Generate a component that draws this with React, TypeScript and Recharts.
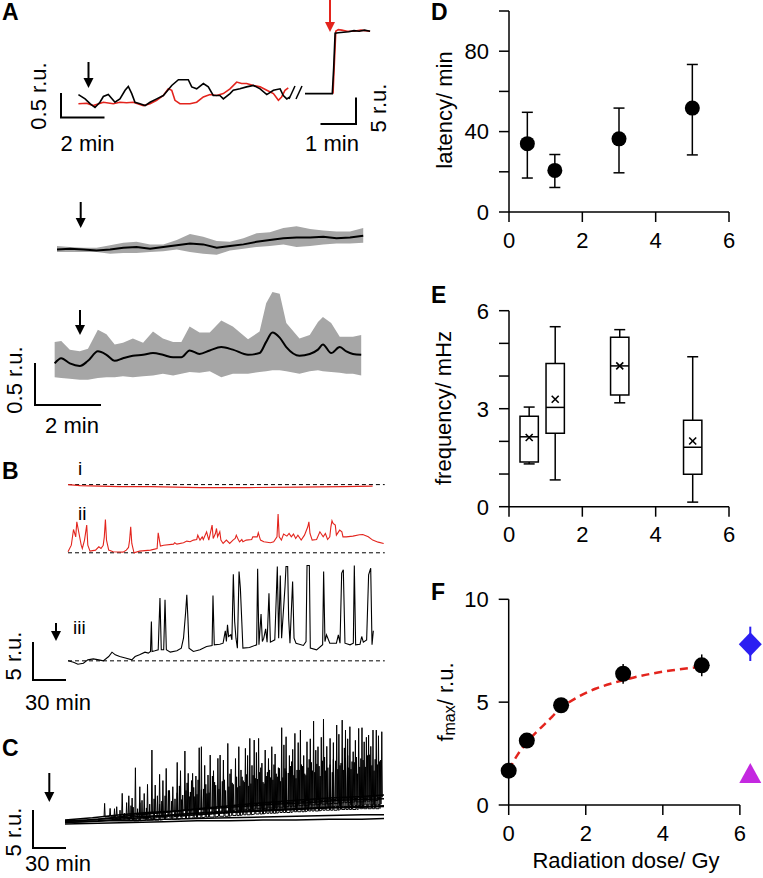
import {
  ComposedChart,
  Line,
  Area,
  Scatter,
  ErrorBar,
  XAxis,
  YAxis,
  ReferenceLine,
  ReferenceArea,
} from 'recharts'

const FONT = '"Liberation Sans", Arial, Helvetica, sans-serif'
const RED = '#e3241d'
const BAND = '#a6a6a6'
const BLUE = '#2b1ef2'
const MAGENTA = '#c428e0'

// ---- A, single cell before / after (time in min, dF in r.u.)
const aBlack: [number, number][] = [
  [0.02, 0.33], [0.33, 0.24], [0.56, 0.14], [0.79, 0.06], [1.02, 0.17], [1.18, 0.29], [1.41, 0.33],
  [1.72, 0.17], [1.95, 0.24], [2.19, 0.42], [2.34, 0.5], [2.5, 0.35], [2.65, 0.17], [2.88, 0.14],
  [3.12, 0.1], [3.35, 0.17], [3.66, 0.24], [3.97, 0.31], [4.36, 0.52], [4.67, 0.64], [5.13, 0.64],
  [5.29, 0.49], [5.52, 0.45], [5.83, 0.56], [6.06, 0.49], [6.29, 0.31], [6.6, 0.31], [6.76, 0.24],
  [7.07, 0.35], [7.22, 0.42], [7.53, 0.45], [7.84, 0.49], [8.16, 0.52], [8.47, 0.45], [8.78, 0.33],
  [9.09, 0.42], [9.4, 0.45], [9.55, 0.31], [9.71, 0.24], [9.86, 0.28],
]
const aRed: [number, number][] = [
  [0.02, 0.14], [0.4, 0.15], [0.71, 0.1], [1.18, 0.17], [1.64, 0.14], [1.95, 0.17], [2.26, 0.16],
  [2.57, 0.17], [3.04, 0.1], [3.35, 0.14], [3.66, 0.21], [3.97, 0.31], [4.2, 0.45], [4.36, 0.42],
  [4.51, 0.21], [4.74, 0.14], [5.21, 0.14], [5.52, 0.17], [5.83, 0.28], [6.14, 0.33], [6.45, 0.31],
  [6.76, 0.35], [7.07, 0.45], [7.38, 0.59], [7.61, 0.56], [7.84, 0.56], [8.16, 0.52], [8.47, 0.49],
  [8.78, 0.42], [9.09, 0.35], [9.32, 0.21], [9.47, 0.28], [9.63, 0.42], [9.78, 0.47],
]
const aStepBlack: [number, number][] = [
  [0, 0], [0.4, 0], [0.78, 0], [0.82, 5], [0.86, 11.6], [0.95, 11.7], [1.1, 11.8], [1.25, 11.9],
  [1.4, 12.1], [1.55, 12.0], [1.7, 12.2], [1.86, 12.0],
]
const aStepRed: [number, number][] = [
  [0.8, 0], [0.84, 6], [0.88, 12.0], [0.95, 12.3], [1.05, 12.2], [1.2, 12.0], [1.4, 12.0], [1.6, 12.2], [1.86, 12.0],
]

// ---- A, averaged responses (mean with SD band)
const a2Time = [0, 0.39, 0.8, 1.2, 1.61, 2.01, 2.41, 2.82, 3.22, 3.63, 4.03, 4.43, 4.84, 5.24, 5.65, 6.05, 6.45, 6.86, 7.26, 7.67, 8.07, 8.47, 8.88, 9.28]
const a2Mean = [0.01, 0.02, 0.01, 0, 0.01, 0.03, 0.04, 0.02, 0.04, 0.06, 0.08, 0.07, 0.03, 0.05, 0.07, 0.1, 0.12, 0.14, 0.15, 0.15, 0.16, 0.14, 0.15, 0.17]
const a2Hi = [0.05, 0.04, 0.03, 0.03, 0.06, 0.09, 0.1, 0.07, 0.07, 0.12, 0.19, 0.16, 0.11, 0.1, 0.14, 0.2, 0.21, 0.26, 0.28, 0.25, 0.23, 0.22, 0.22, 0.26]
const a2Lo = [-0.02, -0.02, -0.02, -0.02, -0.04, -0.03, -0.03, -0.02, -0.01, 0.01, -0.02, -0.04, -0.05, 0, 0.02, 0.04, 0.05, 0.07, 0.04, 0.05, 0.07, 0.08, 0.08, 0.09]

const a3Time = [0.05, 0.25, 0.51, 0.81, 1.06, 1.36, 1.62, 1.87, 2.12, 2.42, 2.73, 3.03, 3.33, 3.64, 3.89, 4.14, 4.44, 4.75, 5.1, 5.45, 5.91, 6.26, 6.46, 6.65, 6.87, 7.07, 7.47, 7.78, 8.03, 8.18, 8.43, 8.69, 8.89, 9.09, 9.34]
const a3Mean = [0, 0.06, 0, -0.03, 0.03, 0.14, 0.1, 0.03, 0.06, 0.09, 0.1, 0.12, 0.1, 0.07, 0.07, 0.15, 0.11, 0.15, 0.19, 0.16, 0.1, 0.12, 0.25, 0.36, 0.3, 0.19, 0.09, 0.11, 0.16, 0.22, 0.12, 0.19, 0.14, 0.11, 0.1]
const a3Hi = [0.25, 0.26, 0.16, 0.14, 0.17, 0.39, 0.34, 0.22, 0.24, 0.29, 0.24, 0.37, 0.29, 0.25, 0.25, 0.43, 0.36, 0.36, 0.5, 0.43, 0.28, 0.37, 0.7, 0.83, 0.81, 0.47, 0.29, 0.33, 0.48, 0.54, 0.47, 0.31, 0.31, 0.31, 0.33]
const a3Lo = [-0.16, -0.17, -0.18, -0.19, -0.19, -0.17, -0.16, -0.16, -0.15, -0.16, -0.15, -0.14, -0.12, -0.14, -0.12, -0.1, -0.11, -0.09, -0.16, -0.12, -0.12, -0.1, -0.09, -0.08, -0.08, -0.09, -0.12, -0.09, -0.08, -0.09, -0.1, -0.11, -0.12, -0.12, -0.14]

// ---- B, long recordings (time in min)
const bTraceI: [number, number][] = [
  [0, 0], [11, -0.13], [29, -0.2], [47, -0.26], [75, -0.26], [120, -0.39], [165, -0.39], [210, -0.33], [250, -0.26], [277, -0.2],
]
const bTraceII: [number, number][] = [
  [0, 0.13], [3, 1.0], [5, 3.07], [7, 2.1], [8, 4.08], [10, 2.54], [12, 1.0], [13, 0.57], [15, 1.67], [17, 3.64],
  [18, 1.0], [20, 0.22], [25, 0.35], [28, 0.79], [30, 0.57], [32, 1.0], [33, 2.1], [34, 4.39], [35, 1.67], [37, 0.35],
  [41, 0.13], [50, 0.09], [53, 0.35], [55, 0.7], [56, 1.67], [57, 3.42], [58, 1.23], [60, 0], [65, 0.22], [75, 0.35],
  [81, 0.57], [82, 2.63], [84, 0.88], [87, 1.0], [96, 1.14], [97, 1.32], [99, 1.14], [105, 1.32], [108, 1.54], [111, 1.45],
  [114, 1.67], [117, 1.75], [118, 2.32], [120, 1.67], [122, 2.1], [123, 1.75], [126, 2.76], [128, 1.67], [129, 2.32], [131, 3.64],
  [132, 1.89], [134, 2.54], [135, 3.2], [136, 2.1], [138, 2.76], [139, 1.67], [141, 1.23], [144, 1.67], [147, 1.23], [150, 1.67],
  [152, 1.89], [153, 2.32], [155, 1.67], [156, 1.45], [158, 1.75], [159, 1.45], [162, 1.67], [167, 1.75], [168, 2.1], [172, 2.1],
  [173, 2.63], [175, 1.67], [178, 1.45], [184, 1.32], [187, 1.45], [190, 2.1], [191, 5.09], [192, 2.1], [194, 1.67], [196, 2.46],
  [199, 2.19], [201, 2.54], [203, 2.1], [205, 2.46], [207, 1.89], [209, 2.32], [212, 1.67], [215, 2.32], [218, 3.42], [219, 4.08],
  [220, 2.54], [222, 1.67], [226, 1.75], [229, 2.76], [232, 2.1], [234, 2.54], [236, 1.75], [238, 2.1], [239, 3.42], [240, 4.21],
  [241, 3.86], [243, 3.64], [244, 2.32], [247, 2.98], [249, 2.76], [250, 2.1], [253, 2.1], [259, 2.19], [265, 2.37], [268, 2.41],
  [273, 2.1], [277, 1.67], [282, 1.4], [287, 1.23],
]
const bTraceIII: [number, number][] = [
  [0, 0], [5, -0.18], [9, -0.44], [14, -0.31], [18, 0.13], [23, 0.26], [28, 0.13], [32, 0], [37, 0.57], [40, 1.14],
  [43, 0.79], [47, 0.57], [53, 0.35], [58, 0.13], [61, 0.57], [65, 0.79], [70, 1.14], [73, 1.01], [75, 1.23], [75.8, 5.18],
  [76.4, 1.23], [79, 1.32], [82, 1.45], [83.6, 8.25], [84.8, 1.45], [87, 1.45], [88.2, 8.03], [89.4, 1.45], [93, 1.14], [99, 1.32],
  [103, 1.67], [105, 2.98], [107, 6.49], [108, 8.68], [109, 5.61], [110, 1.67], [114, 1.23], [120, 1.45], [126, 1.89], [131, 2.02],
  [131.8, 8.6], [133, 2.11], [138, 2.19], [141, 2.32], [143, 3.95], [144, 2.54], [145, 4.74], [146, 3.2], [148, 3.42], [149, 2.76],
  [150.3, 11.4], [151.5, 5.18], [152.7, 2.98], [154, 1.67], [155.5, 11.75], [156.7, 9.56], [158, 5.18], [159, 1.67], [165, 1.75], [171.5, 2.11],
  [172.4, 12.1], [173.6, 2.11], [175.5, 6.14], [176.7, 2.54], [178, 2.98], [179.7, 4.21], [181, 2.46], [182.7, 8.9], [184, 2.46], [188, 2.76],
  [190.3, 12.41], [191.5, 2.98], [193, 11.23], [194.2, 2.98], [197.3, 9.78], [198.2, 12.41], [199.7, 12.41], [200.6, 5.61], [201.8, 2.32], [204.2, 10.44],
  [205.5, 2.98], [207.3, 2.32], [214, 2.02], [216.4, 2.54], [217.3, 12.54], [219.4, 12.54], [220.3, 1.67], [226, 1.45], [231.5, 2.11], [232.4, 11.75],
  [233.6, 2.54], [235, 3.42], [238, 2.32], [244, 2.32], [245.8, 3.42], [247.3, 2.32], [248.8, 11.54], [250.3, 11.97], [251.8, 2.32], [256.4, 2.11],
  [259.4, 2.32], [260.3, 12.54], [261.5, 2.11], [265.5, 2.19], [267, 3.2], [268.5, 2.46], [271.5, 2.76], [273.3, 11.32], [275.2, 12.19], [276.4, 2.11],
  [277.6, 3.95],
]

// ---- C, overlay of many cells
const cBigTime = [36, 41, 47, 52, 58, 64, 68, 79, 82, 86, 92, 98, 102, 109, 112, 116, 122, 124, 130, 132, 139, 141, 148, 158, 164, 168, 172, 176, 182, 188, 197, 201, 209, 214, 220, 226, 230, 235, 241, 247, 252, 255, 259, 262, 267, 270, 276, 280, 283, 288]
const cBigPeak = [2.5, 1.84, 2.06, 3.82, 3.5, 7.19, 4.69, 9.52, 4.91, 6.32, 7.1, 4.69, 7.89, 9.39, 6.45, 6.45, 9.82, 9.96, 6.23, 8.86, 8.42, 8.86, 10.39, 9.96, 9.74, 11.05, 10.83, 11.05, 9.52, 9.96, 12.46, 11.27, 11.71, 12.15, 10.61, 13.33, 9.96, 13.6, 11.05, 12.81, 13.46, 12.15, 12.59, 9.3, 12.37, 12.46, 11.49, 12.15, 12.15, 11.93]
const cBigBase = [0.7, 0.8, 0.8, 0.9, 1.0, 1.0, 1.1, 1.2, 1.2, 1.3, 1.4, 1.4, 1.5, 1.6, 1.6, 1.7, 1.8, 1.8, 1.9, 1.9, 2.0, 2.0, 2.1, 2.2, 2.2, 2.3, 2.3, 2.4, 2.4, 2.5, 2.6, 2.6, 2.7, 2.7, 2.8, 2.8, 2.9, 2.9, 3.0, 3.0, 3.0, 3.1, 3.1, 3.1, 3.2, 3.2, 3.2, 3.3, 3.3, 3.3]
const cMidTime = [45, 56, 61, 72, 75, 89, 95, 105, 115, 119, 127, 135, 144, 151, 155, 161, 166, 170, 174, 179, 185, 191, 194, 199, 204, 207, 212, 217, 223, 228, 233, 238, 244, 249, 254, 257, 264, 272, 274, 278, 285]
const cMidPeak = [1.8, 2.6, 3.2, 3.8, 5.0, 5.5, 4.2, 6.8, 5.5, 6.1, 7.5, 6.8, 8.2, 7.0, 8.4, 6.0, 8.8, 7.5, 9.2, 7.8, 8.4, 9.0, 7.2, 10.2, 8.8, 9.6, 10.5, 8.8, 11.0, 9.5, 11.2, 10.0, 10.5, 11.6, 9.8, 11.0, 10.8, 10.6, 11.2, 10.0, 11.4]
const cMidBase = [0.5, 0.6, 0.7, 0.8, 0.8, 0.9, 1.0, 1.1, 1.2, 1.2, 1.3, 1.4, 1.5, 1.5, 1.6, 1.6, 1.7, 1.7, 1.8, 1.8, 1.9, 1.9, 2.0, 2.0, 2.1, 2.1, 2.2, 2.2, 2.3, 2.3, 2.4, 2.4, 2.5, 2.5, 2.6, 2.6, 2.7, 2.7, 2.8, 2.8, 2.9]
const cSmallTime = [50, 54, 60, 66, 70, 77, 84, 88, 94, 100, 104, 107, 111, 114, 118, 121, 126, 129, 134, 137, 143, 146, 150, 153, 157, 160, 163, 167, 171, 175, 178, 181, 184, 187, 190, 193, 196, 200, 203, 206, 210, 213, 216, 219, 222, 225, 229, 232, 236, 239, 243, 246, 250, 253, 257, 260, 263, 266, 269, 273, 277, 281, 284, 287]
const cSmallPeak = [1.6, 1.2, 2.2, 1.8, 2.9, 2.4, 3.5, 2.8, 4.2, 3.1, 4.8, 3.6, 5.2, 4.0, 3.4, 5.6, 4.4, 3.8, 6.1, 4.9, 5.4, 4.2, 6.4, 5.0, 4.6, 6.9, 5.3, 4.8, 6.2, 5.7, 7.2, 5.1, 6.6, 5.9, 7.6, 6.0, 5.4, 7.1, 6.5, 8.0, 5.8, 6.9, 7.4, 6.2, 8.3, 6.8, 7.7, 6.1, 8.6, 7.2, 6.6, 8.1, 7.5, 6.9, 8.8, 7.0, 7.9, 6.4, 8.4, 7.3, 8.9, 6.8, 7.6, 8.2]
const cSmallBase = [0.3, 0.3, 0.4, 0.4, 0.5, 0.5, 0.6, 0.6, 0.7, 0.7, 0.8, 0.8, 0.9, 0.9, 1.0, 1.0, 1.0, 1.1, 1.1, 1.2, 1.2, 1.2, 1.3, 1.3, 1.3, 1.4, 1.4, 1.4, 1.5, 1.5, 1.5, 1.6, 1.6, 1.6, 1.6, 1.7, 1.7, 1.7, 1.7, 1.8, 1.8, 1.8, 1.8, 1.9, 1.9, 1.9, 1.9, 2.0, 2.0, 2.0, 2.0, 2.1, 2.1, 2.1, 2.1, 2.2, 2.2, 2.2, 2.2, 2.3, 2.3, 2.3, 2.3, 2.4]
const cLowTime = [62, 68, 74, 81, 86, 91, 97, 102, 106, 110, 113, 117, 120, 124, 128, 131, 136, 140, 145, 149, 152, 156, 159, 162, 165, 169, 173, 177, 180, 183, 186, 189, 192, 195, 198, 201, 205, 208, 211, 215, 218, 221, 224, 227, 231, 234, 237, 241, 244, 248, 251, 255, 258, 261, 265, 268, 271, 275, 279, 282, 286]
const cLowPeak = [2.0, 2.6, 1.9, 3.1, 2.4, 3.5, 2.8, 3.9, 3.0, 4.2, 3.4, 4.6, 3.7, 4.3, 5.0, 3.9, 5.3, 4.4, 5.6, 4.7, 5.2, 6.0, 4.8, 5.5, 6.3, 5.1, 5.8, 6.6, 5.3, 6.1, 6.9, 5.6, 6.4, 7.1, 5.9, 6.7, 7.4, 6.2, 6.9, 7.6, 6.4, 7.2, 7.9, 6.6, 7.4, 8.1, 6.8, 7.6, 8.3, 7.0, 7.8, 8.5, 7.2, 8.0, 8.6, 7.3, 8.2, 8.8, 7.5, 8.3, 8.0]
const cLowBase = [0.2, 0.2, 0.3, 0.3, 0.3, 0.4, 0.4, 0.4, 0.5, 0.5, 0.5, 0.6, 0.6, 0.6, 0.7, 0.7, 0.7, 0.8, 0.8, 0.8, 0.9, 0.9, 0.9, 1.0, 1.0, 1.0, 1.1, 1.1, 1.1, 1.2, 1.2, 1.2, 1.2, 1.3, 1.3, 1.3, 1.3, 1.4, 1.4, 1.4, 1.4, 1.5, 1.5, 1.5, 1.5, 1.6, 1.6, 1.6, 1.6, 1.6, 1.7, 1.7, 1.7, 1.7, 1.7, 1.8, 1.8, 1.8, 1.8, 1.8, 1.8]
const cBaselines: [number, number][][] = [
  [[0, 0.0], [20, 0.1], [40, 0.2], [60, 0.2], [90, 0.4], [120, 0.5], [150, 0.6], [180, 0.7], [210, 0.8], [240, 0.9], [270, 1.0], [290, 1.0]],
  [[0, 0.2], [20, 0.3], [40, 0.5], [60, 0.7], [90, 0.9], [120, 1.2], [150, 1.4], [180, 1.6], [210, 1.8], [240, 2.0], [270, 2.1], [290, 2.2]],
  [[0, -0.2], [30, -0.1], [60, 0], [90, 0.1], [120, 0.2], [150, 0.2], [180, 0.3], [210, 0.3], [240, 0.4], [270, 0.4], [290, 0.5]],
  [[0, 0.1], [30, 0.4], [60, 0.9], [90, 1.3], [120, 1.8], [150, 2.2], [180, 2.6], [210, 2.9], [240, 3.2], [270, 3.4], [290, 3.6]],
  [[0, 0], [30, 0.2], [60, 0.5], [90, 0.8], [120, 1.0], [150, 1.3], [180, 1.5], [210, 1.7], [240, 1.9], [270, 2.0], [290, 2.1]],
  [[0, 0.3], [25, 0.6], [50, 1.0], [75, 1.3], [100, 1.5], [130, 1.8], [160, 2.1], [190, 2.4], [220, 2.6], [250, 2.9], [290, 3.1]],
]

// ---- D, latency vs dose
const doseD = [0.5, 1.25, 3, 5]
const latency = [34, 20.7, 36.4, 51.7]
const latencyBelow = [17.1, 8.5, 16.9, 23.3]
const latencyAbove = [15.6, 7.9, 15.3, 21.7]

// ---- E, frequency box plots
const doseE = [0.55, 1.26, 3.02, 5.01]
const whiskLow = [1.31, 0.82, 3.18, 0.14]
const q1 = [1.37, 2.25, 3.42, 0.99]
const median = [2.14, 3.04, 4.31, 1.82]
const q3 = [2.77, 4.38, 5.19, 2.65]
const whiskHigh = [3.05, 5.51, 5.42, 4.59]
const meanE = [2.12, 3.29, 4.31, 2.01]

// ---- F, fmax vs dose
const doseF = [0, 0.47, 1.36, 2.97, 5.01]
const fmax = [1.67, 3.13, 4.85, 6.38, 6.79]
const fmaxErr = [0.1, 0.1, 0.15, 0.48, 0.53]
const fitDose = [0, 0.25, 0.5, 0.75, 1, 1.35, 1.75, 2.25, 2.75, 3.25, 3.75, 4.25, 5]
const fitFmax = [1.7, 2.5, 3.1, 3.6, 4.05, 4.7, 5.2, 5.65, 5.95, 6.2, 6.4, 6.55, 6.72]
const ctrlDose = [6.27]
const ctrlFmax = [7.81]
const ctrlErr = [0.81, 0.86]
const blockDose = [6.27]
const blockFmax = [1.56]

const rows = (p: [number, number][]) => p.map(([t, v]) => ({ t, v }))
const spikeRows = (times: number[], peaks: number[], bases: number[]) =>
  times.flatMap((t, i) => [
    { t: t - 0.5, v: bases[i] },
    { t, v: peaks[i] },
    { t: t + 0.5, v: bases[i] },
  ])
const bandRows = (time: number[], mean: number[], lo: number[], hi: number[]) =>
  time.map((t, i) => ({ t, v: mean[i], band: [lo[i], hi[i]] }))

const PAD = 6

function TraceBox({ left, top, width, height, x, y, children }: any) {
  return (
    <div style={{ position: 'absolute', left: left - PAD, top: top - PAD }}>
      <ComposedChart
        width={width + 2 * PAD}
        height={height + 2 * PAD}
        margin={{ top: PAD, right: PAD, bottom: PAD, left: PAD }}
      >
        <XAxis type="number" dataKey="t" domain={x} hide />
        <YAxis type="number" domain={y} hide />
        {children}
      </ComposedChart>
    </div>
  )
}

const axisStyle = {
  axisLine: { stroke: '#000', strokeWidth: 1.5 },
  tickLine: { stroke: '#000', strokeWidth: 1.5 },
  tick: { fill: '#000', fontSize: 22, fontFamily: FONT },
  tickSize: 10,
  tickMargin: 10,
  interval: 0 as const,
}

const blackDot = (r: number) => (p: any) => <circle cx={p.cx} cy={p.cy} r={r} fill="#000" />
const meanCross = (p: any) => (
  <g stroke="#000" strokeWidth={1.6}>
    <line x1={p.cx - 3.5} y1={p.cy - 3.5} x2={p.cx + 3.5} y2={p.cy + 3.5} />
    <line x1={p.cx - 3.5} y1={p.cy + 3.5} x2={p.cx + 3.5} y2={p.cy - 3.5} />
  </g>
)
const diamond = (p: any) => (
  <polygon points={`${p.cx},${p.cy - 12} ${p.cx + 11.5},${p.cy} ${p.cx},${p.cy + 12} ${p.cx - 11.5},${p.cy}`} fill={BLUE} />
)
const triangle = (p: any) => (
  <polygon points={`${p.cx},${p.cy - 10} ${p.cx + 11},${p.cy + 10} ${p.cx - 11},${p.cy + 10}`} fill={MAGENTA} />
)

function Arrow({ x, y1, y2, color = '#000' }: any) {
  return (
    <g>
      <line x1={x} y1={y1} x2={x} y2={y2 - 8} stroke={color} strokeWidth={2} />
      <polygon points={`${x - 5},${y2 - 10} ${x + 5},${y2 - 10} ${x},${y2}`} fill={color} />
    </g>
  )
}

function VText({ x, y, children }: any) {
  return (
    <text x={x} y={y} transform={`rotate(-90 ${x} ${y})`} textAnchor="middle" dominantBaseline="central" fontSize={22}>
      {children}
    </text>
  )
}

export default function App() {
  const latencyRows = doseD.map((x, i) => ({ x, y: latency[i], err: [latencyBelow[i], latencyAbove[i]] }))
  const meanRows = doseE.map((x, i) => ({ x, y: meanE[i] }))
  const fmaxRows = doseF.map((x, i) => ({ x, y: fmax[i], err: fmaxErr[i] }))
  const fitRows = fitDose.map((x, i) => ({ x, y: fitFmax[i] }))
  const ctrlRows = ctrlDose.map((x, i) => ({ x, y: ctrlFmax[i], err: ctrlErr }))
  const blockRows = blockDose.map((x, i) => ({ x, y: blockFmax[i] }))
  const a2Rows = bandRows(a2Time, a2Mean, a2Lo, a2Hi)
  const a3Rows = bandRows(a3Time, a3Mean, a3Lo, a3Hi)

  return (
    <div style={{ position: 'absolute', left: 0, top: 0, width: 763, height: 878, background: '#fff', fontFamily: FONT }}>
      {/* A: single cell */}
      <TraceBox left={78} top={71.6} width={215} height={48} x={[0, 10]} y={[-0.2, 0.8]}>
        <Line data={rows(aRed)} dataKey="v" type="linear" stroke={RED} strokeWidth={1.6} dot={false} isAnimationActive={false} />
        <Line data={rows(aBlack)} dataKey="v" type="linear" stroke="#000" strokeWidth={1.6} dot={false} isAnimationActive={false} />
      </TraceBox>
      <TraceBox left={305} top={26.4} width={65.1} height={72.8} x={[0, 1.86]} y={[-1, 13]}>
        <Line data={rows(aStepRed)} dataKey="v" type="linear" stroke={RED} strokeWidth={1.6} dot={false} isAnimationActive={false} />
        <Line data={rows(aStepBlack)} dataKey="v" type="linear" stroke="#000" strokeWidth={1.6} dot={false} isAnimationActive={false} />
      </TraceBox>

      {/* A: averages */}
      <TraceBox left={57} top={215.6} width={310.2} height={43} x={[0, 9.4]} y={[-0.1, 0.4]}>
        <Area data={a2Rows} dataKey="band" type="linear" stroke="none" fill={BAND} fillOpacity={1} isAnimationActive={false} />
        <Line data={a2Rows} dataKey="v" type="linear" stroke="#000" strokeWidth={2} dot={false} isAnimationActive={false} />
      </TraceBox>
      <TraceBox left={53.3} top={285.9} width={310.2} height={98.9} x={[0, 9.4]} y={[-0.25, 0.9]}>
        <Area data={a3Rows} dataKey="band" type="linear" stroke="none" fill={BAND} fillOpacity={1} isAnimationActive={false} />
        <Line data={a3Rows} dataKey="v" type="monotone" stroke="#000" strokeWidth={2} dot={false} isAnimationActive={false} />
      </TraceBox>

      {/* B */}
      <TraceBox left={68} top={477.4} width={316.8} height={15.2} x={[0, 288]} y={[-1, 1]}>
        <ReferenceLine y={0} stroke="#000" strokeWidth={1} strokeDasharray="4 3" />
        <Line data={rows(bTraceI)} dataKey="v" type="linear" stroke={RED} strokeWidth={1.2} dot={false} isAnimationActive={false} />
      </TraceBox>
      <TraceBox left={68} top={510.9} width={316.8} height={45.6} x={[0, 288]} y={[-0.5, 5.5]}>
        <ReferenceLine y={0} stroke="#000" strokeWidth={1} strokeDasharray="4 3" />
        <Line data={rows(bTraceII)} dataKey="v" type="linear" stroke={RED} strokeWidth={1.1} dot={false} isAnimationActive={false} />
      </TraceBox>
      <TraceBox left={68} top={562.2} width={316.8} height={103.4} x={[0, 288]} y={[-0.6, 13]}>
        <ReferenceLine y={0} stroke="#000" strokeWidth={1} strokeDasharray="4 3" />
        <Line data={rows(bTraceIII)} dataKey="v" type="linear" stroke="#000" strokeWidth={1.1} dot={false} isAnimationActive={false} />
      </TraceBox>

      {/* C */}
      <TraceBox left={65} top={715.6} width={319} height={110.2} x={[0, 290]} y={[-0.5, 14]}>
        {cBaselines.map((b, i) => (
          <Line key={`cb-${i}`} data={rows(b)} dataKey="v" type="linear" stroke="#000" strokeWidth={1.5} dot={false} isAnimationActive={false} />
        ))}
        <Line data={spikeRows(cLowTime, cLowPeak, cLowBase)} dataKey="v" type="linear" stroke="#000" strokeWidth={1} dot={false} isAnimationActive={false} />
        <Line data={spikeRows(cSmallTime, cSmallPeak, cSmallBase)} dataKey="v" type="linear" stroke="#000" strokeWidth={1} dot={false} isAnimationActive={false} />
        <Line data={spikeRows(cMidTime, cMidPeak, cMidBase)} dataKey="v" type="linear" stroke="#000" strokeWidth={1} dot={false} isAnimationActive={false} />
        <Line data={spikeRows(cBigTime, cBigPeak, cBigBase)} dataKey="v" type="linear" stroke="#000" strokeWidth={1} dot={false} isAnimationActive={false} />
      </TraceBox>

      {/* D */}
      <div style={{ position: 'absolute', left: 400, top: 0 }}>
        <ComposedChart width={363} height={260} margin={{ top: 11, right: 34, bottom: 18, left: 49 }}>
          <XAxis type="number" dataKey="x" domain={[0, 6]} ticks={[0, 2, 4, 6]} height={30} {...axisStyle} />
          <YAxis
            type="number"
            dataKey="y"
            domain={[0, 100]}
            ticks={[0, 20, 40, 60, 80, 100]}
            width={60}
            tickFormatter={(v: number) => (v % 40 === 0 ? String(v) : '')}
            {...axisStyle}
          />
          <Scatter data={latencyRows} fill="#000" shape={blackDot(7.5)} isAnimationActive={false}>
            <ErrorBar dataKey="err" direction="y" width={5.5} stroke="#000" strokeWidth={1.5} />
          </Scatter>
        </ComposedChart>
      </div>

      {/* E */}
      <div style={{ position: 'absolute', left: 400, top: 260 }}>
        <ComposedChart width={363} height={290} margin={{ top: 50.7, right: 34, bottom: 13.3, left: 49 }}>
          <XAxis type="number" dataKey="x" domain={[0, 6]} ticks={[0, 2, 4, 6]} height={30} {...axisStyle} />
          <YAxis
            type="number"
            dataKey="y"
            domain={[0, 6]}
            ticks={[0, 1, 2, 3, 4, 5, 6]}
            width={60}
            tickFormatter={(v: number) => (v % 3 === 0 ? String(v) : '')}
            {...axisStyle}
          />
          {doseE.map((d, i) => (
            <ReferenceLine key={`wl-${i}`} segment={[{ x: d, y: whiskLow[i] }, { x: d, y: q1[i] }]} stroke="#000" strokeWidth={1.5} />
          ))}
          {doseE.map((d, i) => (
            <ReferenceLine key={`wh-${i}`} segment={[{ x: d, y: q3[i] }, { x: d, y: whiskHigh[i] }]} stroke="#000" strokeWidth={1.5} />
          ))}
          {doseE.map((d, i) => (
            <ReferenceLine key={`cl-${i}`} segment={[{ x: d - 0.15, y: whiskLow[i] }, { x: d + 0.15, y: whiskLow[i] }]} stroke="#000" strokeWidth={1.5} />
          ))}
          {doseE.map((d, i) => (
            <ReferenceLine key={`ch-${i}`} segment={[{ x: d - 0.15, y: whiskHigh[i] }, { x: d + 0.15, y: whiskHigh[i] }]} stroke="#000" strokeWidth={1.5} />
          ))}
          {doseE.map((d, i) => (
            <ReferenceArea
              key={`box-${i}`}
              x1={d - 0.25}
              x2={d + 0.25}
              y1={q1[i]}
              y2={q3[i]}
              fill="#fff"
              fillOpacity={1}
              stroke="#000"
              strokeWidth={1.5}
            />
          ))}
          {doseE.map((d, i) => (
            <ReferenceLine key={`md-${i}`} segment={[{ x: d - 0.25, y: median[i] }, { x: d + 0.25, y: median[i] }]} stroke="#000" strokeWidth={1.5} />
          ))}
          <Scatter data={meanRows} shape={meanCross} isAnimationActive={false} />
        </ComposedChart>
      </div>

      {/* F */}
      <div style={{ position: 'absolute', left: 400, top: 550 }}>
        <ComposedChart width={363} height={328} margin={{ top: 49.3, right: 0, bottom: 43, left: 48.7 }}>
          <XAxis type="number" dataKey="x" domain={[0, 6.6]} ticks={[0, 2, 4, 6]} height={30} {...axisStyle} axisLine={false} />
          <YAxis type="number" dataKey="y" domain={[0, 10]} ticks={[0, 5, 10]} width={60} {...axisStyle} />
          <ReferenceLine segment={[{ x: 0, y: 0 }, { x: 6, y: 0 }]} stroke="#000" strokeWidth={1.5} />
          <Line data={fitRows} dataKey="y" type="monotone" stroke={RED} strokeWidth={2.5} strokeDasharray="8 5" dot={false} isAnimationActive={false} />
          <Scatter data={fmaxRows} shape={blackDot(8)} isAnimationActive={false}>
            <ErrorBar dataKey="err" direction="y" width={0} stroke="#000" strokeWidth={1.5} />
          </Scatter>
          <Scatter data={ctrlRows} shape={diamond} isAnimationActive={false}>
            <ErrorBar dataKey="err" direction="y" width={0} stroke={BLUE} strokeWidth={2} />
          </Scatter>
          <Scatter data={blockRows} shape={triangle} isAnimationActive={false} />
        </ComposedChart>
      </div>

      {/* annotations */}
      <svg width={763} height={878} style={{ position: 'absolute', left: 0, top: 0, pointerEvents: 'none' }} fontFamily={FONT}>
        <g fontWeight="bold" fontSize={23}>
          <text x={2} y={20}>A</text>
          <text x={2} y={479}>B</text>
          <text x={2} y={756}>C</text>
          <text x={431} y={20}>D</text>
          <text x={431} y={303}>E</text>
          <text x={431} y={600}>F</text>
        </g>

        <Arrow x={88.5} y1={62} y2={88} />
        <Arrow x={330} y1={0} y2={32} color={RED} />
        <Arrow x={80.7} y1={202} y2={228} />
        <Arrow x={80} y1={310} y2={335} />
        <Arrow x={56} y1={623} y2={641} />
        <Arrow x={49.3} y1={773} y2={802} />

        <g stroke="#000" strokeWidth={1.5}>
          <line x1={289} y1={99} x2={295} y2={86} />
          <line x1={296} y1={99} x2={302} y2={86} />
        </g>

        <g stroke="#000" strokeWidth={2} fill="none">
          <path d="M61 93 V117.5 H104.5" />
          <path d="M320.5 124 H356 V97.5" />
          <path d="M35 363 V405 H101" />
          <path d="M33 642 V680 H66" />
          <path d="M33 810 V848 H66" />
        </g>

        <g fontSize={22}>
          <text x={87.5} y={151} textAnchor="middle">2 min</text>
          <text x={332} y={151} textAnchor="middle">1 min</text>
          <text x={72} y={433} textAnchor="middle">2 min</text>
          <text x={58} y={710} textAnchor="middle">30 min</text>
          <text x={58} y={871} textAnchor="middle">30 min</text>
        </g>
        <VText x={38} y={96}>0.5 r.u.</VText>
        <VText x={378} y={108}>5 r.u.</VText>
        <VText x={14} y={380}>0.5 r.u.</VText>
        <VText x={13} y={656}>5 r.u.</VText>
        <VText x={13} y={832}>5 r.u.</VText>

        <g fontSize={19}>
          <text x={78} y={475}>i</text>
          <text x={78} y={520}>ii</text>
          <text x={73} y={634}>iii</text>
        </g>

        <VText x={444} y={110}>latency/ min</VText>
        <VText x={443} y={408}>frequency/ mHz</VText>
        <text x={445} y={702} transform="rotate(-90 445 702)" textAnchor="middle" dominantBaseline="central" fontSize={22}>
          f<tspan fontSize={16} dy={4}>max</tspan>
          <tspan dy={-4}>/ r.u.</tspan>
        </text>
        <text x={626} y={868} textAnchor="middle" fontSize={22}>Radiation dose/ Gy</text>
      </svg>
    </div>
  )
}
